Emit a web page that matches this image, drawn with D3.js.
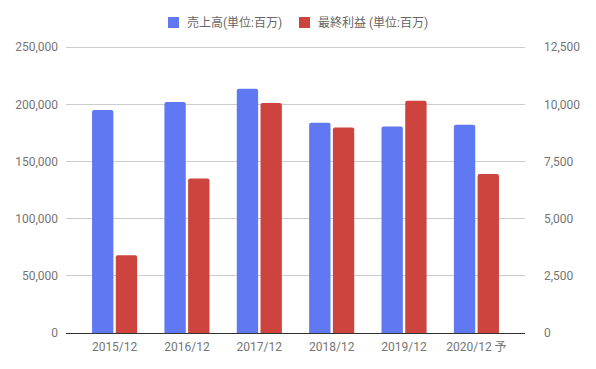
<!DOCTYPE html>
<html><head><meta charset="utf-8">
<script src="https://cdn.jsdelivr.net/npm/d3@7"></script>
<style>body{margin:0;background:#fff;}svg{display:block;font-family:Roboto,"Noto Sans CJK JP",sans-serif;}</style>
</head><body><svg id="c" width="596" height="369"></svg>
<script>
const categories = ["2015/12","2016/12","2017/12","2018/12","2019/12","2020/12 予"];
const seriesNames = ["売上高(単位:百万)","最終利益 (単位:百万)"];
const sales = [195000, 202000, 213500, 183800, 180500, 182000];
const profit = [3400, 6750, 10050, 8980, 10150, 6950];
const leftTicks = [0, 50000, 100000, 150000, 200000, 250000];
const rightTicks = [0, 2500, 5000, 7500, 10000, 12500];
const colors = ["#6079f2", "#cc443d"];

const svg = d3.select("#c");
const L = 66, R = 525, T = 47, B = 333;
const x0 = d3.scaleBand().domain(categories).range([L, R]).paddingInner(0.377).paddingOuter(0.36);
const x1 = d3.scaleBand().domain([0,1]).range([0, x0.bandwidth()]).paddingInner(0.1);
const yL = d3.scaleLinear().domain([0, 250000]).range([B, T]);
const yR = d3.scaleLinear().domain([0, 12500]).range([B, T]);
const fmt = d3.format(",");

// gridlines
svg.append("g").selectAll("line").data(leftTicks.slice(1)).join("line")
  .attr("x1", L).attr("x2", R).attr("y1", d => yL(d)).attr("y2", d => yL(d))
  .attr("stroke", "#cccccc").attr("stroke-width", 1).attr("shape-rendering","crispEdges");

// left axis
const ga = svg.append("g").attr("transform", `translate(${L},0)`)
  .call(d3.axisLeft(yL).tickValues(leftTicks).tickFormat(fmt).tickSize(0).tickPadding(8));
ga.select(".domain").remove();
ga.selectAll("text").attr("fill", "#757575").style("font-size", "12px").style("font-family","Roboto");
const gr = svg.append("g").attr("transform", `translate(${R},0)`)
  .call(d3.axisRight(yR).tickValues(rightTicks).tickFormat(fmt).tickSize(0).tickPadding(19));
gr.select(".domain").remove();
gr.selectAll("text").attr("fill", "#757575").style("font-size", "12px").style("font-family","Roboto");

// bars
function topRounded(x, y, w, h, r) {
  r = Math.min(r, h, w/2);
  return `M${x},${y+h}V${y+r}Q${x},${y} ${x+r},${y}H${x+w-r}Q${x+w},${y} ${x+w},${y+r}V${y+h}Z`;
}
const groups = svg.append("g").selectAll("g").data(categories).join("g")
  .attr("transform", d => `translate(${x0(d)},0)`);
groups.each(function(c, i) {
  const g = d3.select(this);
  const vals = [yL(sales[i]), yR(profit[i])];
  vals.forEach((yy, k) => {
    g.append("path").attr("d", topRounded(x1(k), yy, x1.bandwidth(), B - yy, 2)).attr("fill", colors[k]);
  });
});

// baseline
svg.append("line").attr("x1", L).attr("x2", R).attr("y1", B+0.5).attr("y2", B+0.5)
  .attr("stroke", "#333").attr("stroke-width", 1);

// x axis labels
const gx = svg.append("g").attr("transform", `translate(0,${B})`)
  .call(d3.axisBottom(x0).tickSize(0).tickPadding(9));
gx.select(".domain").remove();
gx.selectAll("text").attr("fill", "#757575").style("font-size", "12px").style("font-family","Roboto, 'Noto Sans CJK JP'");

// legend
const leg = [{x:168, t:seriesNames[0]}, {x:299, t:seriesNames[1]}];
leg.forEach((l, k) => {
  svg.append("rect").attr("x", l.x).attr("y", 17).attr("width", 11).attr("height", 11).attr("fill", colors[k]);
  svg.append("text").attr("x", l.x + 19).attr("y", 27).text(l.t)
    .attr("fill", "#666").style("font-size", "12px").style("font-family","Roboto, 'Noto Sans CJK JP'");
});
</script></body></html>
